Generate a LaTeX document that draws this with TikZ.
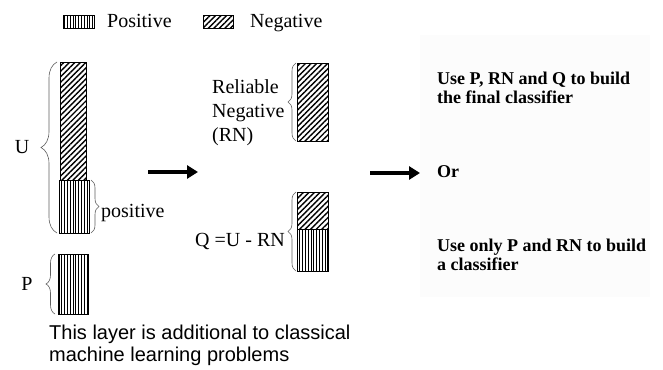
\documentclass[tikz,border=0pt]{standalone}
\usepackage{fontspec}
\setmainfont{Liberation Serif}
\newfontfamily\sansf{Liberation Sans}
\usetikzlibrary{patterns.meta,decorations.pathreplacing,arrows.meta}
\begin{document}
\begin{tikzpicture}[x=1pt,y=-1pt,
  posfill/.style={draw=black,line width=0.5pt,inner sep=0pt,anchor=north west,
    pattern={Lines[angle=90,distance=2.8pt,line width=0.6pt]}},
  negfill/.style={draw=black,line width=0.5pt,inner sep=0pt,anchor=north west,
    pattern={Lines[angle=45,distance=3.9pt,line width=1.4pt]}},
  brc/.style={draw=gray!75!black,line width=0.6pt,decorate,decoration={brace,amplitude=#1}},
  lbl/.style={font=\fontsize{20}{24}\selectfont,inner sep=0pt},
  blbl/.style={font=\fontsize{18}{16}\selectfont\bfseries,inner sep=0pt,anchor=base west},
  slbl/.style={font=\fontsize{20}{22}\selectfont\sansf,inner sep=0pt,anchor=base west},
  bigarrow/.style={-{Triangle[length=11pt,width=13pt]},line width=3.6pt}
]
\useasboundingbox (0,0) rectangle (663,369);
\fill[white] (0,0) rectangle (663,369);
\fill[gray!2] (420,35) rectangle (650,297);

% legend
\node[posfill,minimum width=31pt,minimum height=13pt] (legpos) at (63,15) {};
\node[lbl,anchor=base west] (legpost) at (107,28) {Positive};
\node[negfill,minimum width=30pt,minimum height=13pt] (legneg) at (203,15) {};
\node[lbl,anchor=base west] (legnegt) at (250,28) {Negative};

% U column
\node[negfill,minimum width=26pt,minimum height=118pt] (uneg) at (60,62) {};
\node[posfill,minimum width=30pt,minimum height=53pt] (upos) at (59,180) {};
\coordinate (ubt) at (57,62);
\coordinate (ubb) at (57,233);
\draw[brc=16pt] (ubb) -- (ubt);
\node[lbl] (ulab) at (22,147) {U};
\coordinate (pbt) at (91,180);
\coordinate (pbb) at (91,233);
\draw[brc=8pt] (pbt) -- (pbb);
\node[lbl,anchor=base west] (poslab) at (101,217) {positive};

% P column
\node[posfill,minimum width=30pt,minimum height=60pt] (pbar) at (58,254) {};
\coordinate (qbt0) at (55,254);
\coordinate (qbb0) at (55,314);
\draw[brc=9pt] (qbb0) -- (qbt0);
\node[lbl] (plab) at (27,284) {P};

% bottom note
\node[slbl] (note1) at (49,339) {This layer is additional to classical};
\node[slbl] (note2) at (49,361) {machine learning problems};

% arrow 1
\coordinate (a1s) at (148,172);
\coordinate (a1e) at (198,172);
\draw[bigarrow] (a1s) -- (a1e);

% RN
\node[negfill,minimum width=31pt,minimum height=78pt] (rnbar) at (297,63) {};
\coordinate (rbt) at (296,63);
\coordinate (rbb) at (296,141);
\draw[brc=8pt] (rbb) -- (rbt);
\node[lbl,anchor=base west] (rn1) at (212,93) {Reliable};
\node[lbl,anchor=base west] (rn2) at (212,117) {Negative};
\node[lbl,anchor=base west] (rn3) at (212,141) {(RN)};

% Q
\node[negfill,minimum width=31pt,minimum height=37pt] (qneg) at (297,192) {};
\node[posfill,minimum width=31pt,minimum height=42pt] (qpos) at (297,229) {};
\coordinate (qbt) at (296,192);
\coordinate (qbb) at (296,271);
\draw[brc=8pt] (qbb) -- (qbt);
\node[lbl,anchor=base east] (qlab) at (285,246) {Q =U - RN};

% arrow 2
\coordinate (a2s) at (370,173);
\coordinate (a2e) at (420,173);
\draw[bigarrow] (a2s) -- (a2e);

% right text
\node[blbl] (r1) at (437,84) {Use P, RN and Q to build};
\node[blbl] (r2) at (437,103) {the final classifier};
\node[blbl] (r3) at (437,177) {Or};
\node[blbl] (r4) at (437,251) {Use only P and RN to build};
\node[blbl] (r5) at (437,270) {a classifier};
\end{tikzpicture}
\end{document}
